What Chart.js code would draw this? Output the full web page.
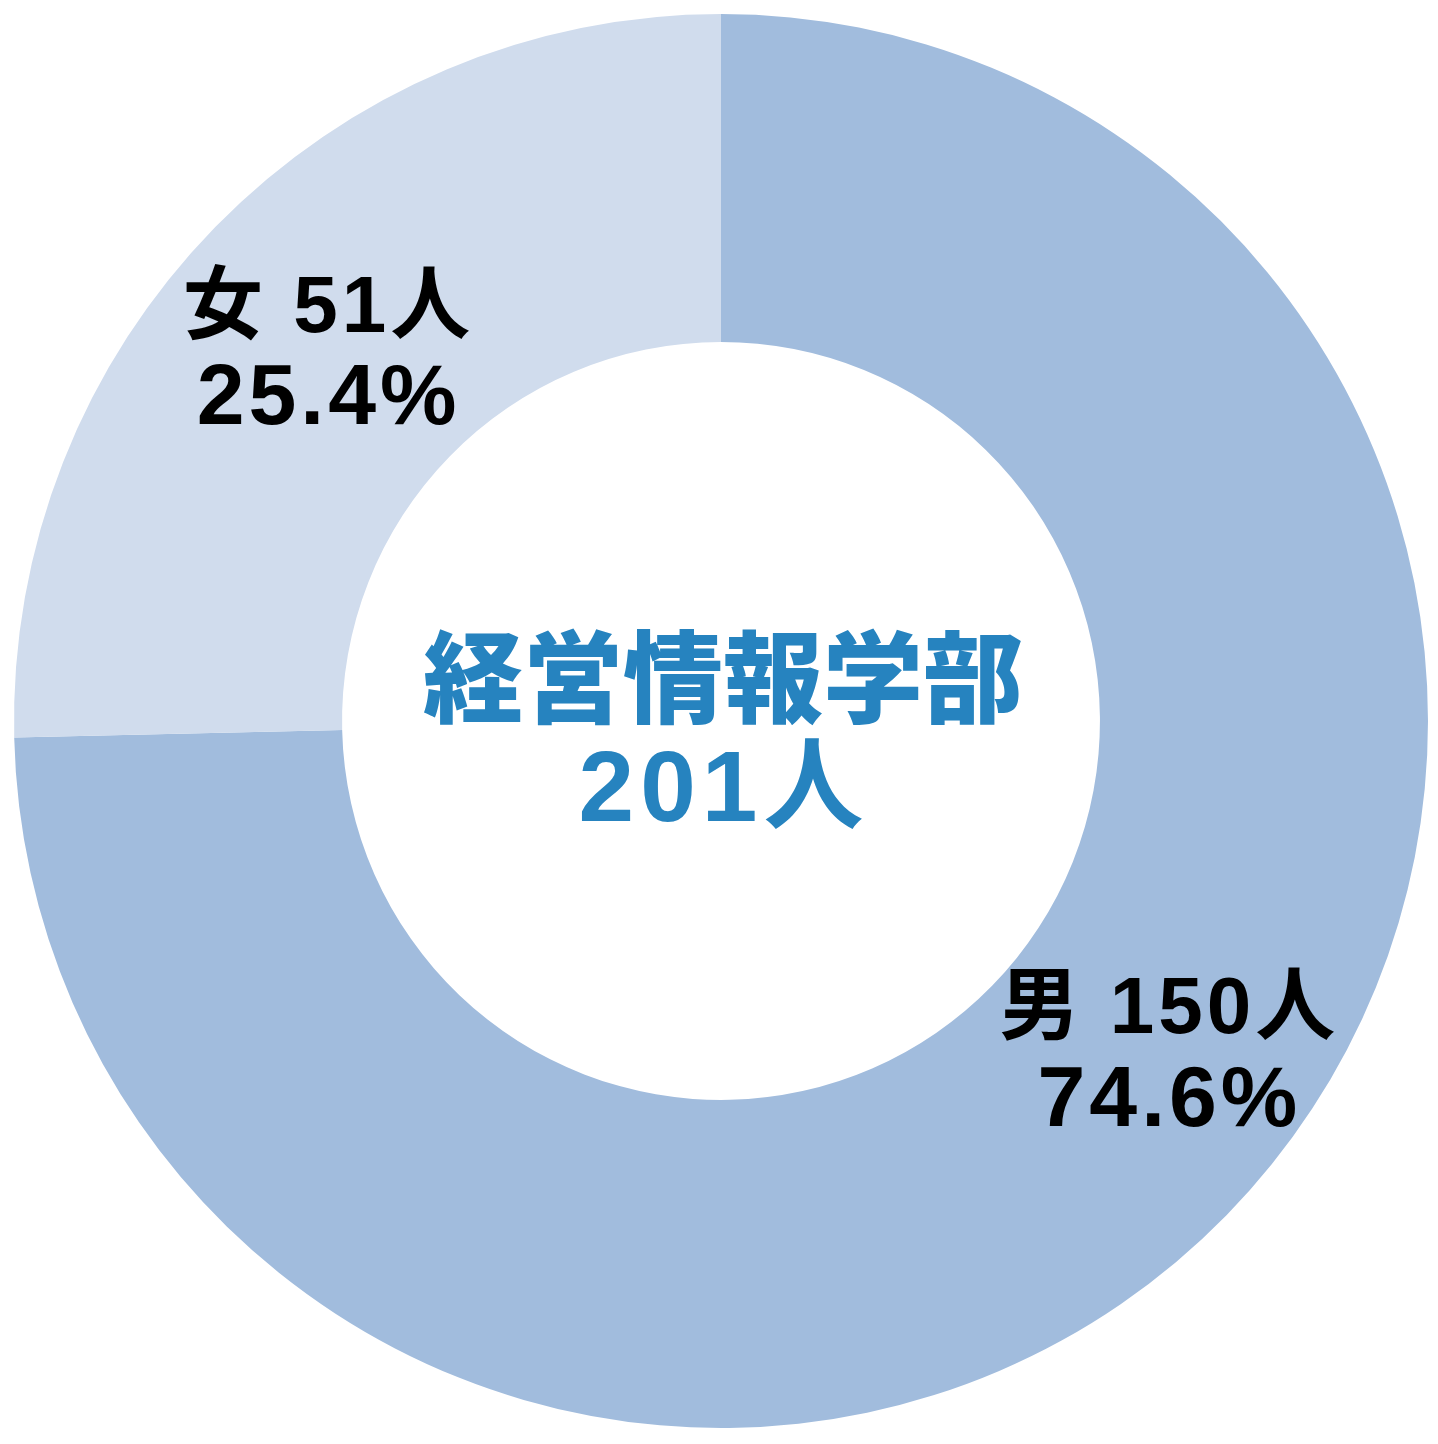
<!DOCTYPE html>
<html>
<head>
<meta charset="utf-8">
<script src="https://cdn.jsdelivr.net/npm/chart.js@4.4.0/dist/chart.umd.min.js"></script>
<style>
  html, body { margin: 0; padding: 0; background: #fff; }
  #wrap { width: 1438px; height: 1444px; }
</style>
</head>
<body>
<div id="wrap"><canvas id="gender"></canvas></div>
<script>
(function () {
  'use strict'

  var labels = ['男', '女']
  var counts = [150, 51]
  var percents = ['74.6%', '25.4%']
  var colors = ['#a1bcdd', '#d0dced']
  var title = '経営情報学部'
  var total = '201人'

  // label offsets from the arc's mid-ring point
  var shift = [[58, -44], [-6, 13]]

  var labelPlugin = {
    id: 'ringLabels',
    afterDraw: function (chart) {
      var c = chart.ctx
      var meta = chart.getDatasetMeta(0)
      c.save()
      c.textAlign = 'center'
      c.textBaseline = 'middle'
      c.fillStyle = '#000'
      meta.data.forEach(function (arc, i) {
        var p = arc.tooltipPosition()
        var x = p.x + shift[i][0]
        var y = p.y + shift[i][1]
        c.letterSpacing = '4px'
        c.font = 'bold 80px "Liberation Sans", "Noto Sans CJK JP"'
        c.fillText(labels[i] + ' ' + counts[i] + '人', x + 2, y - 45)
        c.letterSpacing = '4px'
        c.font = 'bold 86px "Liberation Sans", "Noto Sans CJK JP"'
        c.fillText(percents[i], x + 2, y + 46)
      })
      var a = meta.data[0]
      c.fillStyle = '#2683bf'
      c.letterSpacing = '0px'
      c.font = '900 100px "Noto Sans CJK JP"'
      c.fillText(title, a.x + 2, a.y - 44)
      c.letterSpacing = '6px'
      c.font = 'bold 100px "Liberation Sans", "Noto Sans CJK JP"'
      c.fillText(total, a.x + 3, a.y + 72)
      c.restore()
    }
  }

  var ctx = document.getElementById('gender')

  var data = {
    labels: labels,
    datasets: [{
      data: counts,
      backgroundColor: colors,
      borderWidth: 0
    }]
  }

  var config = {
    type: 'doughnut',
    data: data,
    options: {
      responsive: true,
      maintainAspectRatio: false,
      animation: false,
      cutout: '53.6%',
      layout: { padding: { left: 13, right: 9, top: 14, bottom: 16 } },
      plugins: {
        legend: { display: false },
        tooltip: { enabled: false }
      }
    },
    plugins: [labelPlugin]
  }

  var myChart = new Chart(ctx, config)
})()
</script>
</body>
</html>
